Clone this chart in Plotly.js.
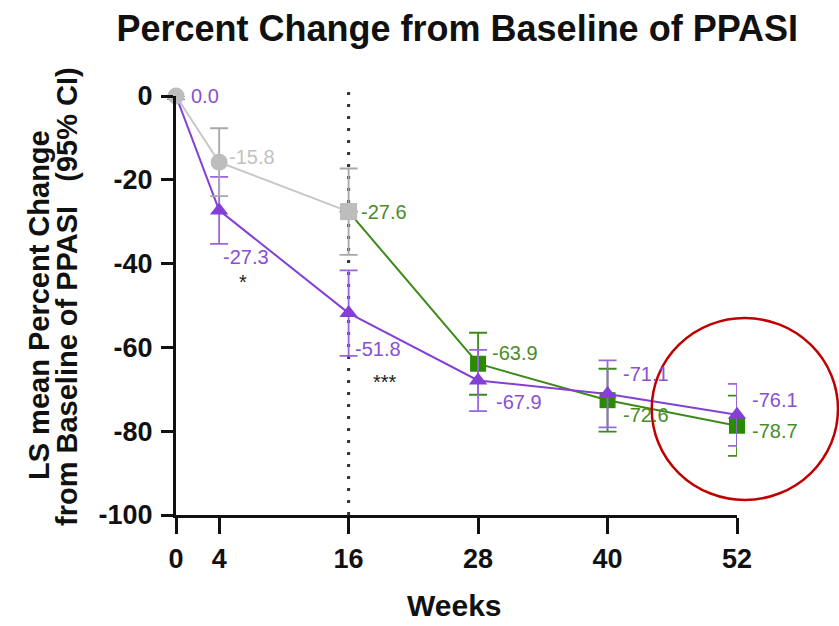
<!DOCTYPE html>
<html>
<head>
<meta charset="utf-8">
<script src="https://cdn.plot.ly/plotly-3.0.1.min.js"></script>
<style>html,body{margin:0;padding:0;background:#fff;}#chart{width:839px;height:626px;}</style>
</head>
<body>
<div id="chart"></div>
<script>
// ---- data ----
const weekTicks = [0, 4, 16, 28, 40, 52];
const yTicks = [0, -20, -40, -60, -80, -100];
const yTickText = ['0', '-20', '-40', '-60', '-80', '-100'];

const grayWeeks = [0, 4, 16];
const grayVals = [0, -15.8, -27.6];
const grayCI = [0, 8.1, 10.3];

const purpleWeeks = [0, 4, 16, 28, 40, 52];
const purpleVals = [0, -27.3, -51.8, -67.9, -71.1, -76.1];
const purpleCI = [0, 8.0, 10.2, 7.3, 8.0, 7.4];

const greenWeeks = [16, 28, 40, 52];
const greenVals = [-27.6, -63.9, -72.6, -78.7];
const greenCI = [0, 7.4, 7.5, 7.2];

const sigWeeks = [4, 16];
const sigText = ['*', '***'];

// ---- styles ----
const PURPLE = '#8440d6', PURPLE_EB = '#9a66de', PURPLE_TXT = '#8a4fd2';
const GREEN = '#3d8a18', GREEN_MK = '#2a8a00', GREEN_TXT = '#4a8c28';
const GRAY = '#c6c6c6', GRAY_MK = '#bdbdbd', GRAY_TXT = '#c2c2c2';
const FONT = 'Liberation Sans, Arial, sans-serif';

// label pixel offsets (xshift, yshift) per point
const grayLabelOff = [null, [8, 5], null];
const purpleLabelOff = [[13, 0], [2, -47], [4, -36], [16, -21], [13, 20], [13, 15]];
const greenLabelOff = [[10, 0], [12, 11], [13, -15], [13, -5]];
const sigOff = [[24, -72], [36, -69]];

const traces = [
  {
    x: greenWeeks, y: greenVals, type: 'scatter', mode: 'lines+markers', cliponaxis: false,
    line: {color: GREEN, width: 2},
    marker: {symbol: 'square', size: 16, color: GREEN_MK},
    error_y: {type: 'data', array: greenCI, visible: true, color: GREEN, thickness: 1.8, width: 9},
    hoverinfo: 'skip'
  },
  {
    x: purpleWeeks, y: purpleVals, type: 'scatter', mode: 'lines+markers', cliponaxis: false,
    line: {color: PURPLE, width: 2},
    marker: {symbol: 'triangle-up', size: 16, color: PURPLE},
    error_y: {type: 'data', array: purpleCI, visible: true, color: PURPLE_EB, thickness: 1.8, width: 9},
    hoverinfo: 'skip'
  },
  {
    x: grayWeeks, y: grayVals, type: 'scatter', mode: 'lines+markers', cliponaxis: false,
    line: {color: GRAY, width: 2},
    marker: {symbol: ['circle', 'circle', 'square'], size: 17, color: GRAY_MK},
    error_y: {type: 'data', array: grayCI, visible: true, color: '#a8a8a8', thickness: 1.8, width: 9},
    hoverinfo: 'skip'
  }
];

const annotations = [];
function addLabels(xs, ys, offs, color) {
  xs.forEach((w, i) => {
    if (!offs[i]) return;
    annotations.push({
      x: w, y: ys[i], xref: 'x', yref: 'y', text: ys[i].toFixed(1),
      showarrow: false, xanchor: 'left', yanchor: 'middle',
      xshift: offs[i][0], yshift: offs[i][1],
      font: {family: FONT, size: 20, color: color}
    });
  });
}
addLabels(grayWeeks, grayVals, grayLabelOff, GRAY_TXT);
addLabels(purpleWeeks, purpleVals, purpleLabelOff, PURPLE_TXT);
addLabels(greenWeeks, greenVals, greenLabelOff, GREEN_TXT);

sigWeeks.forEach((w, i) => {
  const idx = purpleWeeks.indexOf(w);
  annotations.push({
    x: w, y: purpleVals[idx], xref: 'x', yref: 'y', text: sigText[i],
    showarrow: false, xanchor: 'center', yanchor: 'middle',
    xshift: sigOff[i][0], yshift: sigOff[i][1],
    font: {family: FONT, size: 20, color: '#222'}
  });
});

// axis titles as annotations
annotations.push({
  xref: 'paper', yref: 'paper', x: 0.497, y: -0.215, showarrow: false,
  xanchor: 'center', yanchor: 'middle',
  text: '<b>Weeks</b>', font: {family: FONT, size: 30, color: '#111'}
});
annotations.push({
  xref: 'paper', yref: 'paper', x: (39 - 176) / 561, y: (515 - 305) / 419, showarrow: false,
  xanchor: 'center', yanchor: 'middle', textangle: -90,
  text: '<b>LS mean Percent Change</b>',
  font: {family: FONT, size: 29, color: '#111'}
});
annotations.push({
  xref: 'paper', yref: 'paper', x: (67 - 176) / 561, y: (515 - 297) / 419, showarrow: false,
  xanchor: 'center', yanchor: 'middle', textangle: -90,
  text: '<b>from Baseline of PPASI&nbsp;&nbsp;&nbsp;(95% CI)</b>',
  font: {family: FONT, size: 29, color: '#111'}
});

const layout = {
  width: 839, height: 626,
  margin: {l: 176, r: 102, t: 96, b: 111},
  paper_bgcolor: '#ffffff', plot_bgcolor: '#ffffff',
  showlegend: false,
  title: {
    text: '<b>Percent Change from Baseline of PPASI</b>',
    font: {family: FONT, size: 36, color: '#111'},
    x: 0.545, xref: 'container', xanchor: 'center',
    y: 0.955, yref: 'container', yanchor: 'middle'
  },
  xaxis: {
    range: [0, 52], tickvals: weekTicks, ticktext: weekTicks.map(String),
    showgrid: false, zeroline: false, showline: true, linecolor: '#111', linewidth: 3,
    ticks: 'outside', ticklen: 16, tickwidth: 3, tickcolor: '#111',
    tickfont: {family: FONT, size: 27, color: '#111', weight: 'bold'},
    ticklabelstandoff: 2, fixedrange: true
  },
  yaxis: {
    range: [-100, 0], tickvals: yTicks, ticktext: yTickText,
    showgrid: false, zeroline: false, showline: true, linecolor: '#111', linewidth: 3,
    ticks: 'outside', ticklen: 12, tickwidth: 3, tickcolor: '#111',
    tickfont: {family: FONT, size: 27, color: '#111', weight: 'bold'},
    ticklabelstandoff: 3, fixedrange: true
  },
  shapes: [
    {type: 'line', xref: 'x', yref: 'paper', x0: 16, x1: 16, y0: 0, y1: 1.01,
     line: {color: '#333', width: 3, dash: '3px,9px'}, layer: 'below'},
    {type: 'circle', xref: 'paper', yref: 'paper', x0: 0.848, x1: 1.18, y0: 0.036, y1: 0.47,
     line: {color: '#c00000', width: 2.5}, layer: 'above'}
  ],
  annotations: annotations
};

Plotly.newPlot('chart', traces, layout, {displayModeBar: false, staticPlot: true});
</script>
</body>
</html>
